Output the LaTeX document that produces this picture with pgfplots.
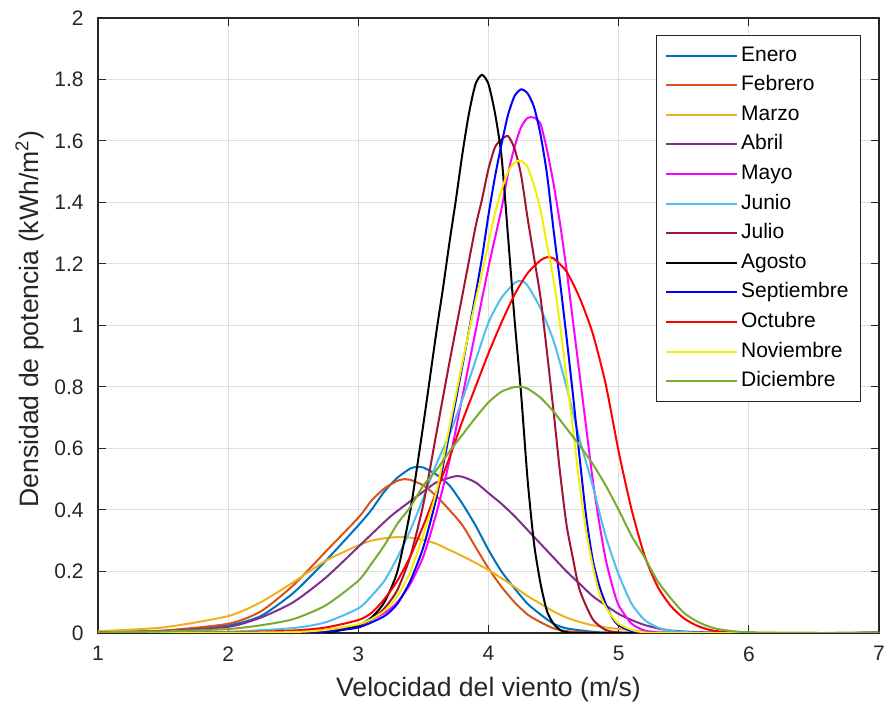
\documentclass[border=0pt]{standalone}
\usepackage{fontspec}
\setmainfont{Liberation Sans}
\usepackage{pgfplots}
\pgfplotsset{compat=1.18}

\definecolor{enero}{HTML}{0072BD}
\definecolor{febrero}{HTML}{D95319}
\definecolor{marzo}{HTML}{EDB120}
\definecolor{abril}{HTML}{7E2F8E}
\definecolor{mayo}{HTML}{FF00FF}
\definecolor{junio}{HTML}{4DBEEE}
\definecolor{julio}{HTML}{A2142F}
\definecolor{agosto}{HTML}{000000}
\definecolor{septiembre}{HTML}{0000FF}
\definecolor{octubre}{HTML}{FF0000}
\definecolor{noviembre}{HTML}{F0F000}
\definecolor{diciembre}{HTML}{77AC30}
\definecolor{axisgray}{HTML}{262626}

\begin{document}
\begin{tikzpicture}
\begin{axis}[
    scale only axis,
    width=390.5pt, height=307.5pt,
    xmin=1, xmax=7, ymin=0, ymax=2,
    xtick={1,2,3,4,5,6,7},
    ytick={0,0.2,0.4,0.6,0.8,1,1.2,1.4,1.6,1.8,2},
    tick align=inside, tick pos=both,
    major tick length=3.8pt,
    grid=major,
    major grid style={gray!25, line width=0.5pt},
    axis line style={axisgray, line width=0.6pt},
    tick style={axisgray, line width=0.5pt},
    /pgf/number format/assume math mode=true,
    tick label style={font=\fontsize{10.5}{12}\selectfont, text=axisgray},
    yticklabel style={inner sep=0pt, xshift=-7pt},
    xticklabel style={inner sep=0pt, yshift=-6.5pt},
    label style={font=\fontsize{13.3}{15}\selectfont, text=axisgray},
    xlabel={Velocidad del viento (m/s)},
    ylabel={Densidad de potencia (kWh/m\textsuperscript{2})},
    xlabel style={at={(axis description cs:0.5,-0.0927)}, anchor=center},
    ylabel style={at={(axis description cs:-0.0871,0.51)}, anchor=center},
    no markers,
    every axis plot/.append style={line width=1pt, smooth, tension=0.4},
    legend cell align=left,
    legend image code/.code={\draw[#1] (0pt,0pt) -- (35.5pt,0pt);},
    legend style={
        at={(axis description cs:1,1)}, anchor=north east,
        xshift=-9pt, yshift=-8.5pt,
        draw=axisgray, line width=0.5pt, fill=white,
        font=\fontsize{10.5}{12}\selectfont,
        inner xsep=4.5pt, inner ysep=5pt,
        row sep=4.6pt,
        nodes={inner xsep=1.5pt, inner ysep=0pt, text height=7.8pt, text depth=2.4pt},
    },
]
\coordinate (sw) at (rel axis cs:0,0);
\coordinate (ne) at (rel axis cs:1,1);

\addplot[enero] coordinates {(1,0.002) (1.5,0.007) (2,0.025) (2.25,0.055) (2.5,0.13) (2.75,0.235) (3,0.35) (3.1,0.40) (3.2,0.46) (3.3,0.505) (3.4,0.535) (3.45,0.54) (3.5,0.538) (3.6,0.515) (3.7,0.48) (3.8,0.42) (3.9,0.35) (4,0.27) (4.1,0.20) (4.2,0.145) (4.3,0.095) (4.4,0.06) (4.5,0.03) (4.6,0.015) (4.8,0.004) (5,0.001) (6,0) (7,0)};
\addlegendentry{Enero}
\addplot[febrero] coordinates {(1,0.002) (1.5,0.008) (2,0.03) (2.25,0.07) (2.5,0.155) (2.75,0.265) (3,0.375) (3.1,0.43) (3.2,0.47) (3.3,0.495) (3.35,0.50) (3.4,0.498) (3.5,0.48) (3.6,0.445) (3.7,0.40) (3.8,0.35) (3.9,0.28) (4,0.21) (4.1,0.15) (4.2,0.10) (4.3,0.06) (4.4,0.035) (4.5,0.015) (4.6,0.006) (4.8,0.001) (5,0) (7,0)};
\addlegendentry{Febrero}
\addplot[marzo] coordinates {(1,0.006) (1.5,0.018) (2,0.055) (2.25,0.10) (2.5,0.165) (2.75,0.235) (3,0.285) (3.1,0.30) (3.2,0.308) (3.3,0.312) (3.4,0.31) (3.5,0.303) (3.6,0.29) (3.7,0.27) (3.8,0.25) (3.9,0.228) (4,0.205) (4.1,0.178) (4.2,0.15) (4.3,0.12) (4.4,0.095) (4.5,0.07) (4.6,0.05) (4.7,0.036) (4.8,0.025) (4.9,0.018) (5,0.013) (5.2,0.006) (5.5,0.002) (6,0) (7,0)};
\addlegendentry{Marzo}
\addplot[abril] coordinates {(1,0.002) (1.5,0.006) (2,0.02) (2.25,0.05) (2.5,0.10) (2.75,0.18) (3,0.28) (3.25,0.38) (3.5,0.46) (3.6,0.49) (3.7,0.505) (3.75,0.51) (3.8,0.508) (3.9,0.49) (4,0.455) (4.1,0.42) (4.2,0.38) (4.3,0.335) (4.4,0.29) (4.5,0.245) (4.6,0.20) (4.7,0.16) (4.8,0.12) (4.9,0.09) (5,0.062) (5.1,0.042) (5.2,0.026) (5.3,0.015) (5.4,0.008) (5.6,0.003) (6,0) (7,0)};
\addlegendentry{Abril}
\addplot[mayo] coordinates {(1,0) (2,0) (2.5,0.002) (2.75,0.008) (3,0.025) (3.2,0.065) (3.3,0.10) (3.4,0.16) (3.5,0.25) (3.6,0.39) (3.7,0.56) (3.8,0.77) (3.9,0.98) (4,1.19) (4.1,1.38) (4.15,1.495) (4.2,1.58) (4.25,1.645) (4.3,1.675) (4.35,1.676) (4.4,1.655) (4.45,1.57) (4.5,1.46) (4.55,1.33) (4.6,1.18) (4.65,1.01) (4.7,0.84) (4.75,0.67) (4.8,0.50) (4.85,0.36) (4.9,0.24) (4.95,0.155) (5,0.09) (5.1,0.03) (5.2,0.008) (5.3,0.002) (5.5,0) (7,0)};
\addlegendentry{Mayo}
\addplot[junio] coordinates {(1,0) (1.5,0.001) (2,0.004) (2.5,0.016) (2.75,0.035) (3,0.08) (3.1,0.12) (3.2,0.17) (3.3,0.245) (3.4,0.335) (3.5,0.44) (3.6,0.55) (3.7,0.645) (3.8,0.76) (3.9,0.885) (4,1.01) (4.1,1.09) (4.2,1.138) (4.25,1.145) (4.3,1.13) (4.4,1.055) (4.5,0.95) (4.6,0.80) (4.7,0.63) (4.8,0.48) (4.9,0.315) (5,0.19) (5.1,0.095) (5.2,0.042) (5.3,0.018) (5.4,0.007) (5.6,0.001) (6,0) (7,0)};
\addlegendentry{Junio}
\addplot[julio] coordinates {(1,0) (2,0.001) (2.5,0.004) (2.75,0.01) (3,0.025) (3.1,0.045) (3.2,0.08) (3.3,0.14) (3.4,0.25) (3.5,0.42) (3.6,0.65) (3.7,0.88) (3.8,1.10) (3.9,1.32) (3.95,1.41) (4,1.51) (4.05,1.58) (4.1,1.605) (4.15,1.616) (4.2,1.575) (4.25,1.49) (4.3,1.35) (4.35,1.22) (4.4,1.09) (4.45,0.91) (4.5,0.72) (4.55,0.52) (4.6,0.35) (4.65,0.24) (4.7,0.14) (4.8,0.045) (4.9,0.01) (5,0.002) (5.2,0) (7,0)};
\addlegendentry{Julio}
\addplot[agosto] coordinates {(1,0) (2.5,0) (2.8,0.004) (3,0.025) (3.1,0.05) (3.2,0.10) (3.3,0.20) (3.4,0.40) (3.5,0.68) (3.6,0.98) (3.65,1.12) (3.7,1.27) (3.75,1.41) (3.8,1.56) (3.85,1.69) (3.9,1.785) (3.95,1.815) (4,1.785) (4.05,1.69) (4.1,1.55) (4.15,1.29) (4.2,1.02) (4.25,0.78) (4.3,0.50) (4.35,0.29) (4.4,0.16) (4.45,0.07) (4.5,0.03) (4.55,0.01) (4.6,0.003) (4.8,0) (7,0)};
\addlegendentry{Agosto}
\addplot[septiembre] coordinates {(1,0) (2.5,0.001) (2.75,0.005) (3,0.018) (3.2,0.055) (3.3,0.095) (3.4,0.17) (3.5,0.28) (3.6,0.44) (3.7,0.65) (3.8,0.87) (3.9,1.10) (3.95,1.22) (4,1.36) (4.05,1.484) (4.1,1.59) (4.15,1.685) (4.2,1.746) (4.25,1.768) (4.3,1.755) (4.35,1.71) (4.4,1.62) (4.45,1.49) (4.5,1.31) (4.55,1.14) (4.6,0.96) (4.65,0.77) (4.7,0.57) (4.75,0.38) (4.8,0.24) (4.85,0.155) (4.9,0.095) (4.95,0.05) (5,0.025) (5.1,0.006) (5.2,0.001) (5.4,0) (7,0)};
\addlegendentry{Septiembre}
\addplot[octubre] coordinates {(1,0) (2,0.002) (2.5,0.008) (2.75,0.018) (3,0.042) (3.1,0.065) (3.2,0.11) (3.3,0.17) (3.4,0.25) (3.5,0.35) (3.6,0.46) (3.7,0.57) (3.8,0.69) (3.9,0.80) (4,0.91) (4.1,1.01) (4.2,1.10) (4.3,1.17) (4.4,1.212) (4.45,1.222) (4.5,1.218) (4.6,1.175) (4.7,1.09) (4.8,0.975) (4.9,0.81) (5,0.59) (5.1,0.40) (5.2,0.25) (5.3,0.15) (5.4,0.088) (5.5,0.048) (5.6,0.024) (5.7,0.01) (5.8,0.004) (6,0.001) (6.5,0) (7,0)};
\addlegendentry{Octubre}
\addplot[noviembre] coordinates {(1,0) (2,0.001) (2.5,0.003) (2.75,0.01) (3,0.028) (3.1,0.045) (3.2,0.072) (3.3,0.12) (3.4,0.20) (3.5,0.32) (3.6,0.46) (3.7,0.67) (3.8,0.88) (3.9,1.08) (3.95,1.17) (4,1.27) (4.05,1.365) (4.1,1.44) (4.15,1.50) (4.2,1.53) (4.25,1.535) (4.3,1.515) (4.35,1.455) (4.4,1.375) (4.45,1.26) (4.5,1.15) (4.55,1.00) (4.6,0.83) (4.65,0.66) (4.7,0.48) (4.75,0.33) (4.8,0.22) (4.85,0.13) (4.9,0.085) (4.95,0.053) (5,0.03) (5.1,0.01) (5.2,0.002) (5.4,0) (7,0)};
\addlegendentry{Noviembre}
\addplot[diciembre] coordinates {(1,0.002) (1.5,0.005) (2,0.013) (2.25,0.025) (2.5,0.045) (2.75,0.09) (3,0.17) (3.1,0.225) (3.2,0.285) (3.3,0.355) (3.4,0.41) (3.5,0.48) (3.6,0.53) (3.7,0.59) (3.8,0.645) (3.9,0.70) (4,0.75) (4.1,0.785) (4.2,0.80) (4.25,0.80) (4.3,0.795) (4.4,0.765) (4.5,0.72) (4.6,0.665) (4.7,0.61) (4.8,0.55) (4.9,0.48) (5,0.40) (5.1,0.315) (5.2,0.245) (5.3,0.168) (5.4,0.113) (5.5,0.066) (5.6,0.038) (5.7,0.02) (5.8,0.01) (6,0.002) (6.5,0) (7,0)};
\addlegendentry{Diciembre}
\end{axis}
\pgfresetboundingbox
\path[use as bounding box] ([xshift=-49pt,yshift=-38pt]sw) rectangle ([xshift=4pt,yshift=9pt]ne);
\end{tikzpicture}
\end{document}
